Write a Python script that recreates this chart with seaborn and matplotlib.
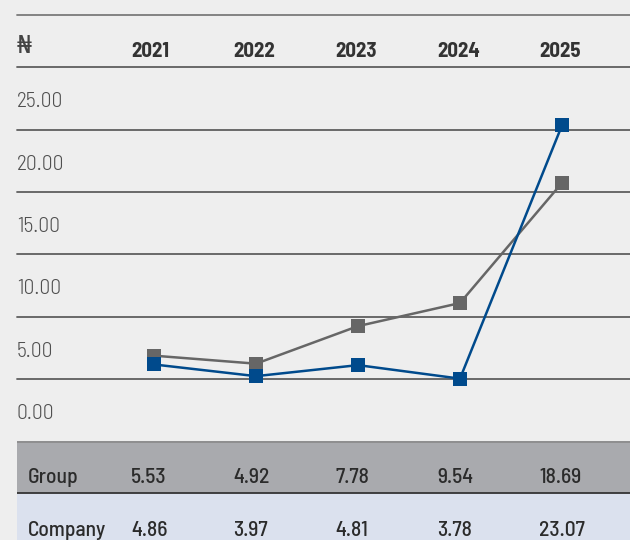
import matplotlib
matplotlib.use("Agg")
import matplotlib.pyplot as plt
import matplotlib.transforms as mtransforms
from matplotlib.lines import Line2D
import seaborn as sns
import pandas as pd

# ---------------- data ----------------
years = ["2021", "2022", "2023", "2024", "2025"]
group = [5.53, 4.92, 7.78, 9.54, 18.69]
company = [4.86, 3.97, 4.81, 3.78, 23.07]
ytick_values = [0, 5, 10, 15, 20, 25]
currency_label = "₦"
row_labels = ["Group", "Company"]

# ---------------- style ----------------
sns.set_style("white")
FONT = ["Barlow Semi Condensed", "DejaVu Sans"]
plt.rcParams["font.family"] = FONT

BG = "#eeeeee"
GRID = "#5e5e5e"
GREY = "#666666"
BLUE = "#004a8c"

fig = plt.figure(figsize=(6.3, 5.4), dpi=100, facecolor=BG)
L = 17 / 630
W = 1 - L

# axis used for labels / band grid
ax = fig.add_axes([L, 99 / 540, W, 374 / 540])
ax.set_facecolor(BG)
for s in ax.spines.values():
    s.set_visible(False)
ax.set_xticks([])
ax.set_yticks([])
ax.set_ylim(-2.44, 27.52)

# data axis
ax2 = ax.twinx()
ax2.patch.set_visible(False)
for s in ax2.spines.values():
    s.set_visible(False)

df = pd.DataFrame({"year": years, "Group": group, "Company": company})
sns.lineplot(data=df, x="year", y="Group", ax=ax2, color=GREY, marker="s",
             markersize=10, markeredgewidth=0, linewidth=1.8, zorder=3)
sns.lineplot(data=df, x="year", y="Company", ax=ax2, color=BLUE, marker="s",
             markersize=10, markeredgewidth=0, linewidth=1.8, zorder=4)
ax2.set_ylim(-0.97, 27.52)
xl = (-1.343, 4.667)
ax2.set_xlim(*xl)
ax.set_xlim(*xl)
ax2.set_xticks([])
ax2.set_yticks([])
ax2.set_xlabel("")
ax2.set_ylabel("")
ax.set_xlabel("")

# band grid lines (between the value labels)
for v in ytick_values:
    ax.axhline(v + 2.5, color=GRID, lw=1.3, clip_on=False, zorder=1)

# y value labels
ytr = mtransforms.blended_transform_factory(ax.transAxes, ax.transData)
for v in ytick_values:
    ax.text(0, v - 0.7, f"{v:.2f}", transform=ytr, ha="left", va="baseline",
            fontsize=15.5, fontweight=300, color="#505050")

# header
htr = mtransforms.blended_transform_factory(ax.transData, ax.transAxes)
for i, y in enumerate(years):
    ax.text(i - 0.225, 1.0267, y, transform=htr, ha="left", va="baseline",
            fontsize=15, fontweight="bold", color="#333333", clip_on=False)
ax.text(0, 1.0374, currency_label, transform=ax.transAxes, ha="left",
        va="baseline", fontsize=17, fontweight="normal", color="#444444",
        clip_on=False)
fig.add_artist(Line2D([L, 1], [1 - 15 / 540] * 2, color="#7a7a7a", lw=1.3))

# table
tab = fig.add_axes([L, 0, W, 99 / 540])
tab.set_xlim(*xl)
tab.set_ylim(0, 99)
tab.axis("off")
tab.axhspan(47, 99, color="#a9aaae", zorder=0)
tab.axhspan(0, 47, color="#dbe1ee", zorder=0)
tab.axhline(47, color="#333333", lw=1.3, zorder=2)
tab.axhline(98.5, color="#8a8a8a", lw=1.2, zorder=2)

rows = [(row_labels[0], group, 57), (row_labels[1], company, 4)]
ttr = mtransforms.blended_transform_factory(tab.transAxes, tab.transData)
for name, vals, base in rows:
    tab.text((28 - 17) / 613, base, name, transform=ttr, ha="left",
             va="baseline", fontsize=15.5, fontweight=500, color="#2b2b2b")
    for i, v in enumerate(vals):
        tab.text(i - 0.225, base, f"{v:.2f}", ha="left", va="baseline",
                 fontsize=15.5, fontweight=500, color="#2b2b2b")

fig.savefig("out.png", dpi=100, facecolor=BG)
